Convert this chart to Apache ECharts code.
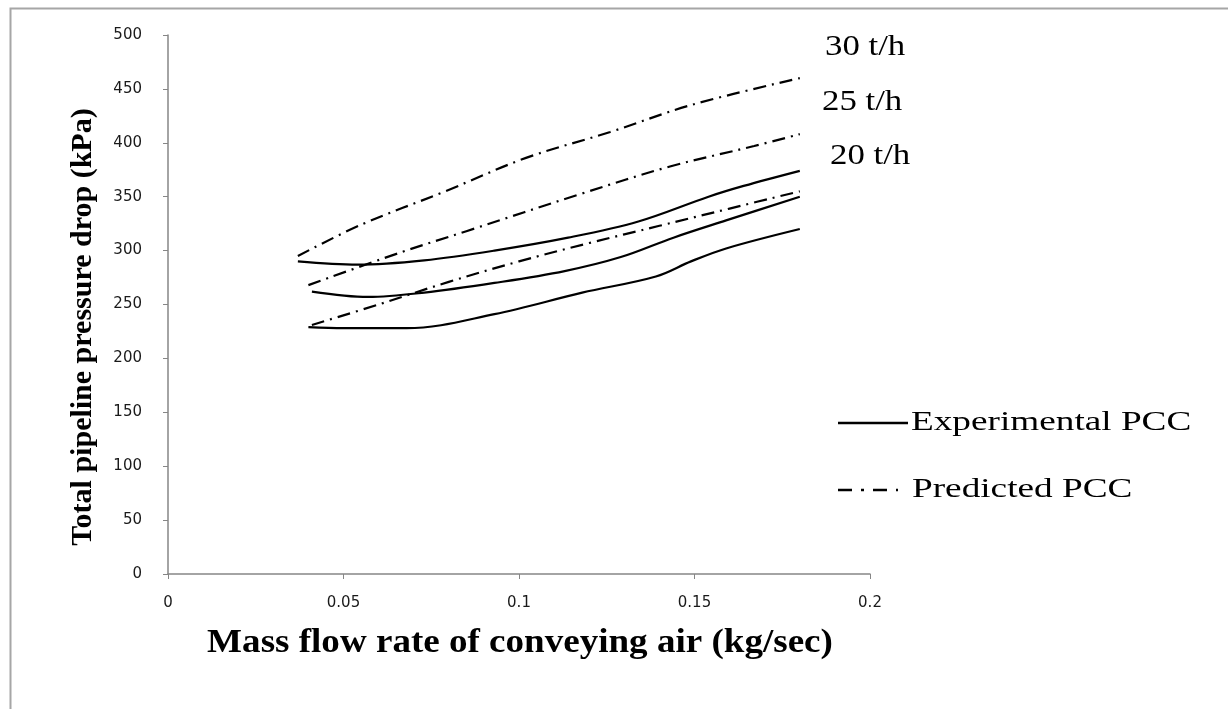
<!DOCTYPE html>
<html><head><meta charset="utf-8">
<script src="https://cdn.jsdelivr.net/npm/echarts@6/dist/echarts.min.js"></script>
<style>html,body{margin:0;padding:0;background:#fff}#c{width:1228px;height:709px}</style>
</head><body><div id="c"></div>
<script>
// Data (x: kg/sec, y: kPa)
const exp30X = [0.037, 0.054, 0.073, 0.093, 0.114, 0.134, 0.154, 0.164, 0.18];
const exp30Y = [290, 287, 291, 300, 312, 327, 350, 360, 374];
const exp25X = [0.041, 0.057, 0.073, 0.093, 0.113, 0.129, 0.144, 0.159, 0.18];
const exp25Y = [262, 257, 261, 270, 281, 294, 312, 328, 350];
const exp20X = [0.040, 0.050, 0.068, 0.093, 0.118, 0.139, 0.149, 0.159, 0.18];
const exp20Y = [229, 228, 228, 241, 261, 276, 290, 302, 320];
const pred30X = [0.037, 0.055, 0.079, 0.102, 0.126, 0.149, 0.18];
const pred30Y = [295, 324, 355, 386, 410, 435, 460];
const pred25X = [0.040, 0.066, 0.085, 0.118, 0.143, 0.167, 0.18];
const pred25Y = [268, 298, 318, 353, 378, 397, 408];
const pred20X = [0.041, 0.06, 0.08, 0.1, 0.12, 0.14, 0.16, 0.18];
const pred20Y = [231, 250, 271, 290, 307, 323, 339, 355];
const rateLabels = ['30 t/h', '25 t/h', '20 t/h'];
const legendNames = ['Experimental PCC', 'Predicted PCC'];
const xTitle = 'Mass flow rate of conveying air (kg/sec)';
const yTitle = 'Total pipeline pressure drop (kPa)';

const zip = (xs, ys) => xs.map((x, i) => [x, ys[i]]);
const dashDot = [13, 6, 2, 6];
function solid(xs, ys) {
  return { name: legendNames[0], type: 'line', data: zip(xs, ys), smooth: 0.35, symbol: 'none',
    lineStyle: { color: '#000', width: 2.2, type: 'solid' }, itemStyle: { color: '#000' } };
}
function dashed(xs, ys) {
  return { name: legendNames[1], type: 'line', data: zip(xs, ys), smooth: 0.35, symbol: 'none',
    lineStyle: { color: '#000', width: 2.2, type: dashDot }, itemStyle: { color: '#000' } };
}
const chart = echarts.init(document.getElementById('c'));
const serif = '"Liberation Serif", "Times New Roman", serif';
chart.setOption({
  animation: false,
  grid: { left: 168, right: 358, top: 35, bottom: 135 },
  xAxis: {
    type: 'value', min: 0, max: 0.2, interval: 0.05,
    axisLine: { lineStyle: { color: '#868686', width: 1.5 } },
    axisTick: { show: true, length: 5, lineStyle: { color: '#868686' } },
    axisLabel: { fontFamily: '"DejaVu Sans"', fontSize: 15, color: '#1a1a1a', margin: 22 },
    splitLine: { show: false }
  },
  yAxis: {
    type: 'value', min: 0, max: 500, interval: 50,
    axisLine: { show: true, lineStyle: { color: '#868686', width: 1.5 } },
    axisTick: { show: true, length: 5, lineStyle: { color: '#868686' } },
    axisLabel: { fontFamily: '"DejaVu Sans"', fontSize: 15, color: '#1a1a1a', margin: 26 },
    splitLine: { show: false }
  },
  series: [
    solid(exp30X, exp30Y), solid(exp25X, exp25Y), solid(exp20X, exp20Y),
    dashed(pred30X, pred30Y), dashed(pred25X, pred25Y), dashed(pred20X, pred20Y)
  ],
  graphic: [
    { type: 'rect', left: 8, top: 6, shape: { width: 1400, height: 900 },
      style: { fill: 'none', stroke: '#a6a6a6', lineWidth: 2 }, silent: true },
    { type: 'text', x: 520, y: 643, scaleX: 1.09,
      style: { text: xTitle, font: 'bold 34px ' + serif, fill: '#000', align: 'center', verticalAlign: 'middle' } },
    { type: 'text', x: 83, y: 327, rotation: Math.PI / 2,
      style: { text: yTitle, font: 'bold 30px ' + serif, fill: '#000', align: 'center', verticalAlign: 'middle' } },
    { type: 'text', x: 825, y: 47, scaleX: 1.2,
      style: { text: rateLabels[0], font: '29px ' + serif, fill: '#000', align: 'left', verticalAlign: 'middle' } },
    { type: 'text', x: 822, y: 102, scaleX: 1.2,
      style: { text: rateLabels[1], font: '29px ' + serif, fill: '#000', align: 'left', verticalAlign: 'middle' } },
    { type: 'text', x: 830, y: 156, scaleX: 1.2,
      style: { text: rateLabels[2], font: '29px ' + serif, fill: '#000', align: 'left', verticalAlign: 'middle' } },
    { type: 'line', shape: { x1: 838, y1: 423, x2: 908, y2: 423 },
      style: { stroke: '#000', lineWidth: 2.5 } },
    { type: 'text', x: 911, y: 423, scaleX: 1.33,
      style: { text: legendNames[0], font: '28px ' + serif, fill: '#000', align: 'left', verticalAlign: 'middle' } },
    { type: 'line', shape: { x1: 838, y1: 490, x2: 898, y2: 490 },
      style: { stroke: '#000', lineWidth: 2.5, lineDash: [14, 9, 3, 9] } },
    { type: 'text', x: 912, y: 490, scaleX: 1.33,
      style: { text: legendNames[1], font: '28px ' + serif, fill: '#000', align: 'left', verticalAlign: 'middle' } }
  ]
});
</script></body></html>
